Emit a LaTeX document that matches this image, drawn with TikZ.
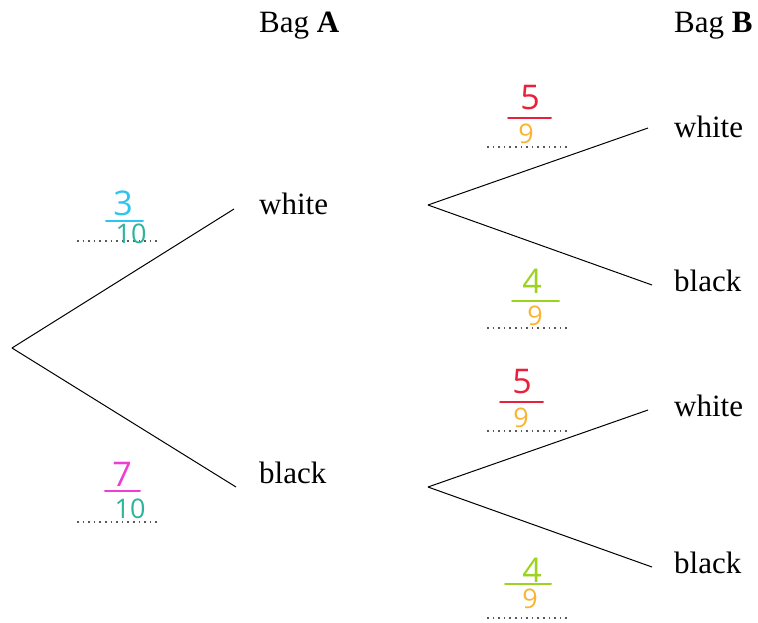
\documentclass[tikz,border=0pt]{standalone}
\usepackage{fontspec}
\setmainfont{Liberation Serif}
\newfontfamily\hand{Open Sans}
\definecolor{ccyan}{HTML}{2EC4F0}
\definecolor{cteal}{HTML}{2BB59A}
\definecolor{cmag}{HTML}{F03CD6}
\definecolor{cred}{HTML}{E8203C}
\definecolor{corange}{HTML}{F9B531}
\definecolor{clime}{HTML}{9CD31E}
\begin{document}
\begin{tikzpicture}[x=1pt,y=-1pt,
  lbl/.style={font=\fontsize{31}{36}\selectfont, inner sep=0pt, anchor=west},
  hdr/.style={font=\fontsize{31}{36}\selectfont, inner sep=0pt, anchor=base west},
  branch/.style={line width=1pt, black},
  dots/.style={line width=1.6pt, dash pattern=on 1.6pt off 4pt, black!65},
  num/.style={font=\hand\fontsize{34}{34}\selectfont, inner sep=0pt},
  den/.style={font=\hand\fontsize{27}{27}\selectfont, inner sep=0pt},
  bar/.style={line width=2pt, line cap=round}]
\useasboundingbox (0,0) rectangle (758,622);
% headers
\node[hdr] (hA) at (259,32) {Bag \textbf{A}};
\node[hdr] (hB) at (674,32) {Bag \textbf{B}};
% tree nodes
\coordinate (root) at (12,348);
\node[lbl] (aw) at (259,204) {white};
\node[lbl] (ab) at (259,473) {black};
\coordinate (sw) at (428,205);
\coordinate (sb) at (428,487);
\node[lbl] (bww) at (674,127) {white};
\node[lbl] (bwb) at (674,281) {black};
\node[lbl] (bbw) at (674,406) {white};
\node[lbl] (bbb) at (674,563) {black};
% branches
\coordinate (e1) at (234,209);
\coordinate (e2) at (236,487);
\draw[branch] (root) -- (e1);
\draw[branch] (root) -- (e2);
\coordinate (f1) at (648,128);
\coordinate (f2) at (652,285);
\coordinate (f3) at (648,410);
\coordinate (f4) at (652,567);
\draw[branch] (sw) -- (f1);
\draw[branch] (sw) -- (f2);
\draw[branch] (sb) -- (f3);
\draw[branch] (sb) -- (f4);
% dotted answer lines
\coordinate (d1a) at (77,241); \coordinate (d1b) at (159,241);
\coordinate (d2a) at (77,522); \coordinate (d2b) at (159,522);
\coordinate (d3a) at (487,147); \coordinate (d3b) at (568,147);
\coordinate (d4a) at (487,328); \coordinate (d4b) at (568,328);
\coordinate (d5a) at (487,431); \coordinate (d5b) at (568,431);
\coordinate (d6a) at (487,618); \coordinate (d6b) at (568,618);
\foreach \i in {1,...,6} \draw[dots] (d\i a) -- (d\i b);
% fractions
\node[num, text=ccyan] (n1) at (123,203) {3};
\draw[bar, ccyan] (106,221) coordinate (b1a) -- (143,221) coordinate (b1b);
\node[den, text=cteal] (m1) at (131,234) {10};
\node[num, text=cmag] (n2) at (122,474) {7};
\draw[bar, cmag] (105,491) coordinate (b2a) -- (140,491) coordinate (b2b);
\node[den, text=cteal] (m2) at (130,509) {10};
\node[num, text=cred] (n3) at (530,98) {5};
\draw[bar, cred] (508,118) coordinate (b3a) -- (551,118) coordinate (b3b);
\node[den, text=corange] (m3) at (526,134) {9};
\node[num, text=clime] (n4) at (532,281) {4};
\draw[bar, clime] (512,301) coordinate (b4a) -- (559,301) coordinate (b4b);
\node[den, text=corange] (m4) at (535,316) {9};
\node[num, text=cred] (n5) at (522,382) {5};
\draw[bar, cred] (500,402) coordinate (b5a) -- (543,402) coordinate (b5b);
\node[den, text=corange] (m5) at (521,418) {9};
\node[num, text=clime] (n6) at (532,570) {4};
\draw[bar, clime] (505,584) coordinate (b6a) -- (551,584) coordinate (b6b);
\node[den, text=corange] (m6) at (530,599) {9};
\end{tikzpicture}
\end{document}
